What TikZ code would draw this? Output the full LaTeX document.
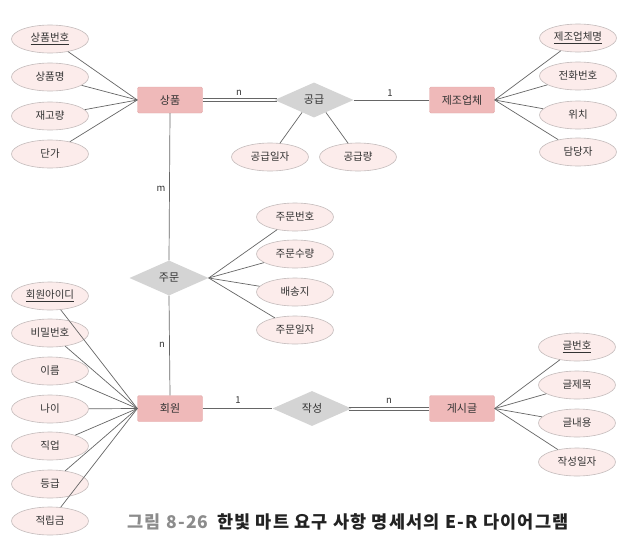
\documentclass[tikz,border=0pt]{standalone}
\usepackage{fontspec}
\setmainfont{Noto Sans CJK KR}
\newfontfamily\kr{Noto Sans CJK KR}
\newfontfamily\krcap[LetterSpace=7]{Noto Sans CJK KR}
\usetikzlibrary{shapes.geometric,calc}
\definecolor{entfill}{HTML}{EFB9B9}
\definecolor{entdraw}{HTML}{E3A9A9}
\definecolor{attfill}{HTML}{FCECEB}
\definecolor{attdraw}{HTML}{C4BCBC}
\definecolor{relfill}{HTML}{D4D4D4}
\definecolor{linec}{HTML}{666666}
\definecolor{txt}{HTML}{333333}
\tikzset{
  entity/.style={draw=entdraw, fill=entfill, rounded corners=1.5pt, minimum width=65pt, minimum height=26pt, inner sep=0pt, font=\kr\fontsize{11}{13}\selectfont, text=txt},
  attr/.style={ellipse, draw=attdraw, line width=0.6pt, fill=attfill, minimum width=77pt, minimum height=28pt, inner sep=0pt, font=\kr\fontsize{10.5}{12}\selectfont, text=txt},
  rel/.style={diamond, fill=relfill, minimum width=79pt, minimum height=35pt, inner sep=0pt, aspect=2, font=\kr\fontsize{11}{13}\selectfont, text=txt},
  conn/.style={draw=linec, line width=0.7pt},
  card/.style={font=\kr\fontsize{9.5}{11}\selectfont, text=txt, inner sep=0pt}
}
\begin{document}
\begin{tikzpicture}[x=1pt,y=-1pt]
\path[use as bounding box, fill=white] (0,0) rectangle (638,555);
% entities
\node[entity] (sp) at (170,100) {상품};
\node[entity] (jo) at (462,100) {제조업체};
\node[entity] (hw) at (170,408.5) {회원};
\node[entity] (gs) at (462,408.5) {게시글};
% relationships
\node[rel] (gg) at (314,100) {공급};
\node[rel] (jm) at (169,278) {주문};
\node[rel] (js) at (312,408.5) {작성};
% attributes of 상품
\node[attr] (a1) at (50,39) {\underline{상품번호}};
\node[attr] (a2) at (50,77) {상품명};
\node[attr] (a3) at (50,116) {재고량};
\node[attr] (a4) at (50,154) {단가};
% attributes of 제조업체
\node[attr] (b1) at (578,38) {\underline{제조업체명}};
\node[attr] (b2) at (578,76) {전화번호};
\node[attr] (b3) at (578,115) {위치};
\node[attr] (b4) at (578,152) {담당자};
% attributes of 공급
\node[attr] (c1) at (270,157) {공급일자};
\node[attr] (c2) at (358,157) {공급량};
% attributes of 주문
\node[attr] (d1) at (295,217) {주문번호};
\node[attr] (d2) at (295,254) {주문수량};
\node[attr] (d3) at (295,292) {배송지};
\node[attr] (d4) at (295,330) {주문일자};
% attributes of 회원
\node[attr] (e1) at (50,296) {\underline{회원아이디}};
\node[attr] (e2) at (50,333) {비밀번호};
\node[attr] (e3) at (50,371) {이름};
\node[attr] (e4) at (50,409) {나이};
\node[attr] (e5) at (50,446) {직업};
\node[attr] (e6) at (50,484) {등급};
\node[attr] (e7) at (50,521) {적립금};
% attributes of 게시글
\node[attr] (f1) at (577,347) {\underline{글번호}};
\node[attr] (f2) at (577,385) {글제목};
\node[attr] (f3) at (577,423) {글내용};
\node[attr] (f4) at (577,462) {작성일자};
% attribute connectors
\foreach \a in {a1,a2,a3,a4} \draw[conn] (\a) -- (sp.west);
\foreach \a in {b1,b2,b3,b4} \draw[conn] (\a) -- (jo.east);
\draw[conn] ($(gg.south)!0.3!(gg.west)$) -- (c1);
\draw[conn] ($(gg.south)!0.3!(gg.east)$) -- (c2);
\foreach \a in {d1,d2,d3,d4} \draw[conn] (\a) -- (jm.east);
\foreach \a in {e1,e2,e3,e4,e5,e6,e7} \draw[conn] (\a) -- (hw.west);
\foreach \a in {f1,f2,f3,f4} \draw[conn] (\a) -- (gs.east);
% relationship connectors
\draw[conn, line width=0.6pt] ([yshift=1.6pt]sp.east) -- ([yshift=1.6pt, xshift=3pt]gg.west);
\draw[conn, line width=0.6pt] ([yshift=-1.6pt]sp.east) -- ([yshift=-1.6pt, xshift=3pt]gg.west);
\draw[conn] (gg.east) -- (jo.west);
\draw[conn] (sp.south) -- (jm.north);
\draw[conn] (jm.south) -- (hw.north);
\draw[conn] (hw.east) -- (js.west);
\draw[conn, line width=0.6pt] ([yshift=1.6pt, xshift=-3pt]js.east) -- ([yshift=1.6pt]gs.west);
\draw[conn, line width=0.6pt] ([yshift=-1.6pt, xshift=-3pt]js.east) -- ([yshift=-1.6pt]gs.west);
% cardinalities
\node[card] (n1) at (239,93) {n};
\node[card] (n2) at (390,93) {1};
\node[card] (n3) at (161,189) {m};
\node[card] (n4) at (162,345) {n};
\node[card] (n5) at (238,400) {1};
\node[card] (n6) at (389,401) {n};
% caption
\node[font=\krcap\bfseries\fontsize{17.5}{20}\selectfont, inner sep=0pt] (cap) at (348,522) {\textcolor[HTML]{8C8C8C}{그림 8-26}\hspace{0.5em}\textcolor[HTML]{222222}{한빛 마트 요구 사항 명세서의 E-R 다이어그램}};
\end{tikzpicture}
\end{document}
